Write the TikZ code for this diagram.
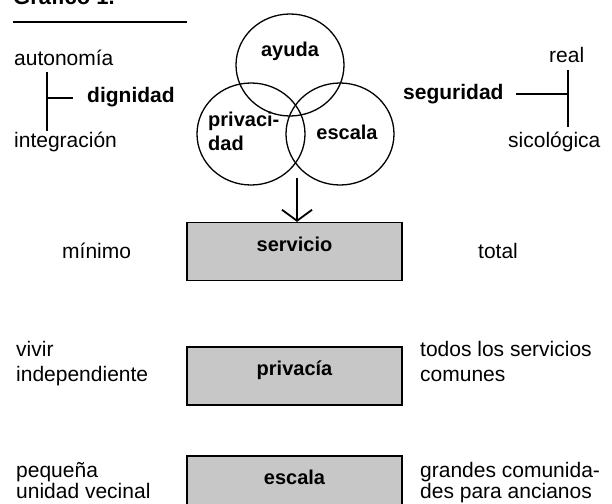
\documentclass[tikz,border=0pt]{standalone}
\usepackage{fontspec}
\setmainfont{Liberation Sans}
\usetikzlibrary{shapes,arrows.meta}

\begin{document}
\begin{tikzpicture}[x=1pt,y=-1pt,>={Straight Barb[length=11pt,width=30pt]}]
				\tikzstyle{word} = [anchor=base west, inner sep=0pt, font=\fontsize{21}{21}\selectfont]
				\tikzstyle{bword} = [word, font=\fontsize{21}{21}\selectfont\bfseries]
				\tikzstyle{vlabel} = [inner sep=0pt, font=\fontsize{20}{20}\selectfont\bfseries]
				\tikzstyle{VENN} = [ellipse, draw, line width=1.3pt, minimum width=108pt, minimum height=102pt]
				\tikzstyle{BAR} = [draw, line width=1.2pt, fill=black!22, minimum width=215pt, minimum height=58pt, text height=15pt, text depth=16pt, font=\fontsize{20}{20}\selectfont\bfseries]
				\tikzstyle{tick} = [line width=1.3pt]

				\useasboundingbox (0,0) rectangle (612,503);

				\node[bword, font=\fontsize{22}{22}\selectfont\bfseries] (title) at (13,5) {Gráfico 1.-};
				\draw[line width=1.2pt] (title.base west) ++(0,17) coordinate (ruleL) -- (187,22);

				\node[word]  (autonomia)   at (14,65)   {autonomía};
				\node[bword] (dignidad)    at (87,102)  {dignidad};
				\node[word]  (integracion) at (14,147)  {integración};
				\draw[tick] (47,72) -- (47,131);
				\draw[tick] (47,98) -- ([xshift=-14pt]dignidad.west |- 0,98);

				\node[word]  (real)       at (549,63)  {real};
				\node[bword] (seguridad)  at (403,99)  {seguridad};
				\node[word]  (sicologica) at (508,147) {sicológica};
				\draw[tick] ([xshift=12pt]seguridad.east |- 0,94) -- (568,94);
				\draw[tick] (568,70) -- (568,127);

				\node[VENN] (Ayuda)      at (290,65)  {};
				\node[VENN] (Privacidad) at (251,134) {};
				\node[VENN] (Escala)     at (340,134) {};
				\node[vlabel] (AyudaTxt) at (290,51) {ayuda};
				\node[vlabel, anchor=base west] (PrivTxtA) at (208,126) {privaci-};
				\node[vlabel, anchor=base west] (PrivTxtB) at (208,150) {dad};
				\node[vlabel, anchor=base] (EscalaTxt) at (347,139) {escala};

				\node[BAR] (servicio) at (294.5,251.5) {servicio};
				\node[BAR] (privacia) at (294.5,376)   {privacía};
				\node[BAR] (escala)   at (294.5,485)   {escala};

				\coordinate (vennBottom) at (297,178);
				\draw[->, line width=1.8pt] (vennBottom) -- (vennBottom |- servicio.north);

				\node[word] (minimo) at (62,258)  {mínimo};
				\node[word] (total)  at (478,258) {total};

				\node[word] (vivir)  at (16,356)  {vivir};
				\node[word] (indep)  at (16,381)  {independiente};
				\node[word] (todos)  at (420,356) {todos los servicios};
				\node[word] (comun)  at (420,381) {comunes};

				\node[word] (pequena) at (16,477)  {pequeña};
				\node[word] (unidad)  at (16,498)  {unidad vecinal};
				\node[word] (grandes) at (420,477) {grandes comunida-};
				\node[word] (ancianos) at (420,498) {des para ancianos};
\end{tikzpicture}
\end{document}
